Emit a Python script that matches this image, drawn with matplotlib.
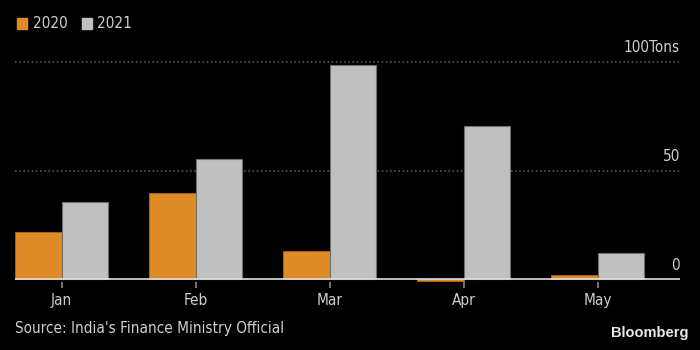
import numpy as np
import matplotlib
matplotlib.use('Agg')
import matplotlib.pyplot as plt
from matplotlib.patches import Rectangle
from matplotlib import font_manager

months = ["Jan", "Feb", "Mar", "Apr", "May"]
y2020 = [21.6, 39.6, 13.0, -0.7, 1.8]
y2021 = [35.6, 55.5, 98.5, 70.5, 12.0]
yticks = [0, 50, 100]
ytick_labels = ["0", "50", "100Tons"]
source = "Source: India's Finance Ministry Official"

orange = "#DE8A26"
grey = "#C0C0C0"
txt = "#CFCFCF"

# pick a narrow font if one is there
fonts = font_manager.fontManager.ttflist
names = {f.name for f in fonts}
if "Liberation Sans Narrow" in names:
    plt.rcParams['font.family'] = ["Liberation Sans Narrow", "DejaVu Sans"]
    fs = 11.5
elif any(f.name == "DejaVu Sans" and f.stretch == "condensed" for f in fonts):
    plt.rcParams['font.family'] = ["DejaVu Sans"]
    plt.rcParams['font.stretch'] = "condensed"
    fs = 10.5
else:
    plt.rcParams['font.family'] = ["Liberation Sans", "DejaVu Sans"]
    fs = 10

fig = plt.figure(figsize=(7, 3.5), dpi=100, facecolor="black")
ax = fig.add_axes([15/700, (350-281.9)/350, 665/700, 231.0/350])
ax.set_facecolor("black")

x = np.arange(len(months))
w = 0.347
ax.bar(x - w/2, y2020, w, color=orange, edgecolor="#B06A1A", linewidth=0.6, zorder=3)
ax.bar(x + w/2, y2021, w, color=grey, edgecolor="#707070", linewidth=0.8, zorder=3)

ax.set_xlim(-0.348, 4.615)
ax.set_ylim(-1.2, 105)

for v in yticks[1:]:
    ax.axhline(v, color="#555555", linestyle=(0, (1, 1.5)), linewidth=1.2, zorder=1)
ax.axhline(0, color="#E0E0E0", linewidth=1.2, zorder=4)

for v, lab in zip(yticks, ytick_labels):
    ax.text(4.615, v + 3, lab, ha="right", va="bottom", color=txt, fontsize=fs + 0.5)

for s in ax.spines.values():
    s.set_visible(False)
ax.set_yticks([])
ax.set_xticks(x)
ax.set_xticklabels(months, color=txt, fontsize=fs + 0.5)
ax.tick_params(axis="x", length=4, color="#888888", width=1.2, pad=4)

# legend
fig.patches.append(Rectangle((17/700, 1-29/350), 10/700, 10.5/350, transform=fig.transFigure, color=orange, figure=fig))
fig.text(33/700, 1-23/350, "2020", color=txt, fontsize=fs + 0.5, va="center")
fig.patches.append(Rectangle((81.5/700, 1-29/350), 10/700, 10.5/350, transform=fig.transFigure, color=grey, figure=fig))
fig.text(97/700, 1-23/350, "2021", color=txt, fontsize=fs + 0.5, va="center")

fig.text(15/700, 1-329/350, source, color=txt, fontsize=fs + 0.5, va="center")
fig.text(688/700, 1-333/350, "Bloomberg", color="#E8E8E8", fontsize=10.5, fontweight="bold",
         ha="right", va="center", family=["Liberation Sans", "DejaVu Sans"], stretch="condensed")

fig.savefig("out.png", dpi=100, facecolor="black")
